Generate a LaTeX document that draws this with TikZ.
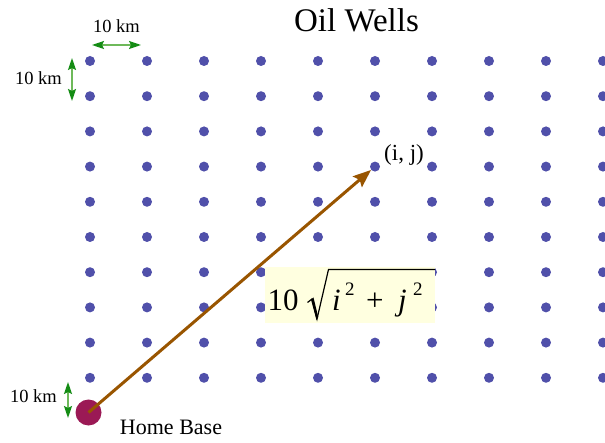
\documentclass[tikz,border=0pt]{standalone}
\usepackage{fontspec}
\setmainfont{Liberation Serif}
\usetikzlibrary{arrows.meta}
\definecolor{dotblue}{RGB}{80,80,170}
\definecolor{homered}{RGB}{155,25,85}
\definecolor{arrbrown}{RGB}{153,85,0}
\definecolor{kmgreen}{RGB}{20,140,20}
\definecolor{kmlight}{RGB}{110,185,90}
\definecolor{boxyellow}{RGB}{255,255,224}
\tikzset{
  dot/.style={circle,fill=dotblue,inner sep=0pt,minimum size=10pt},
  homedot/.style={circle,fill=homered,inner sep=0pt,minimum size=26pt},
  mainarrow/.style={draw=arrbrown,line width=3pt,-{Stealth[length=18pt,width=14pt,inset=3pt]}},
  kmarrow/.style={draw=kmlight,line width=1.8pt,{Stealth[length=12pt,width=8pt,inset=2pt,color=kmgreen]}-{Stealth[length=12pt,width=8pt,inset=2pt,color=kmgreen]}},
  kmlabel/.style={inner sep=0pt,font=\fontsize{18.5}{20}\selectfont},
  formulabox/.style={fill=boxyellow,inner sep=0pt,minimum width=170pt,minimum height=56pt},
  bigtxt/.style={inner sep=0pt,anchor=base west,font=\fontsize{31}{33}\selectfont},
  suptxt/.style={inner sep=0pt,anchor=base west,font=\fontsize{19}{21}\selectfont},
}
\begin{document}
\begin{tikzpicture}[x=1pt,y=-1pt]
\useasboundingbox (0,0) rectangle (605,443);
\fill[white] (0,0) rectangle (605,443);
\node[inner sep=0pt,font=\fontsize{33}{36}\selectfont] (title) at (356.5,20) {Oil Wells};
\foreach \i in {0,...,9}{
  \foreach \j in {0,...,9}{
    \node[dot] (d-\i-\j) at ({90+57*\i},{61+35.2*\j}) {};
  }
}
\node[formulabox] (formula) at (350,295) {};
% formula 10 sqrt(i^2 + j^2)
\node[bigtxt] (ten) at (267.5,310.5) {10};
\draw[line width=1.2pt,line join=miter] (307.5,302.5) -- (312,299) -- (317,319) -- (328.5,269.5) -- (435,269.5);
\fill (311,299.5) -- (313.5,297.5) -- (318.2,317) -- (316.5,320) -- cycle;
\node[bigtxt] (ii) at (332,310.5) {\textit{i}};
\node[suptxt] (i2) at (345,295.5) {2};
\node[bigtxt] (plus) at (366,310.5) {+};
\node[bigtxt] (jj) at (398,310.5) {\textit{j}};
\node[suptxt] (j2) at (413,295.5) {2};
\node[inner sep=0pt,font=\fontsize{23}{25}\selectfont] (ij) at (404,155) {(i, j)};
\node[homedot] (home) at (88.5,412.5) {};
\node[inner sep=0pt,font=\fontsize{22}{24}\selectfont] (hb) at (171,427) {Home Base};
\draw[mainarrow] (home.center) -- (d-5-3);
% scale markers
\coordinate (h1) at (92,45);
\coordinate (h2) at (141,45);
\draw[kmarrow] (h1) -- (h2);
\node[kmlabel] (lt) at (116.5,26) {10 km};
\coordinate (v1) at (72,58);
\coordinate (v2) at (72,101);
\draw[kmarrow] (v1) -- (v2);
\node[kmlabel] (ll) at (38.5,78) {10 km};
\coordinate (b1) at (68,382);
\coordinate (b2) at (68,418);
\draw[kmarrow] (b1) -- (b2);
\node[kmlabel] (lb) at (33.5,396) {10 km};
\end{tikzpicture}
\end{document}
